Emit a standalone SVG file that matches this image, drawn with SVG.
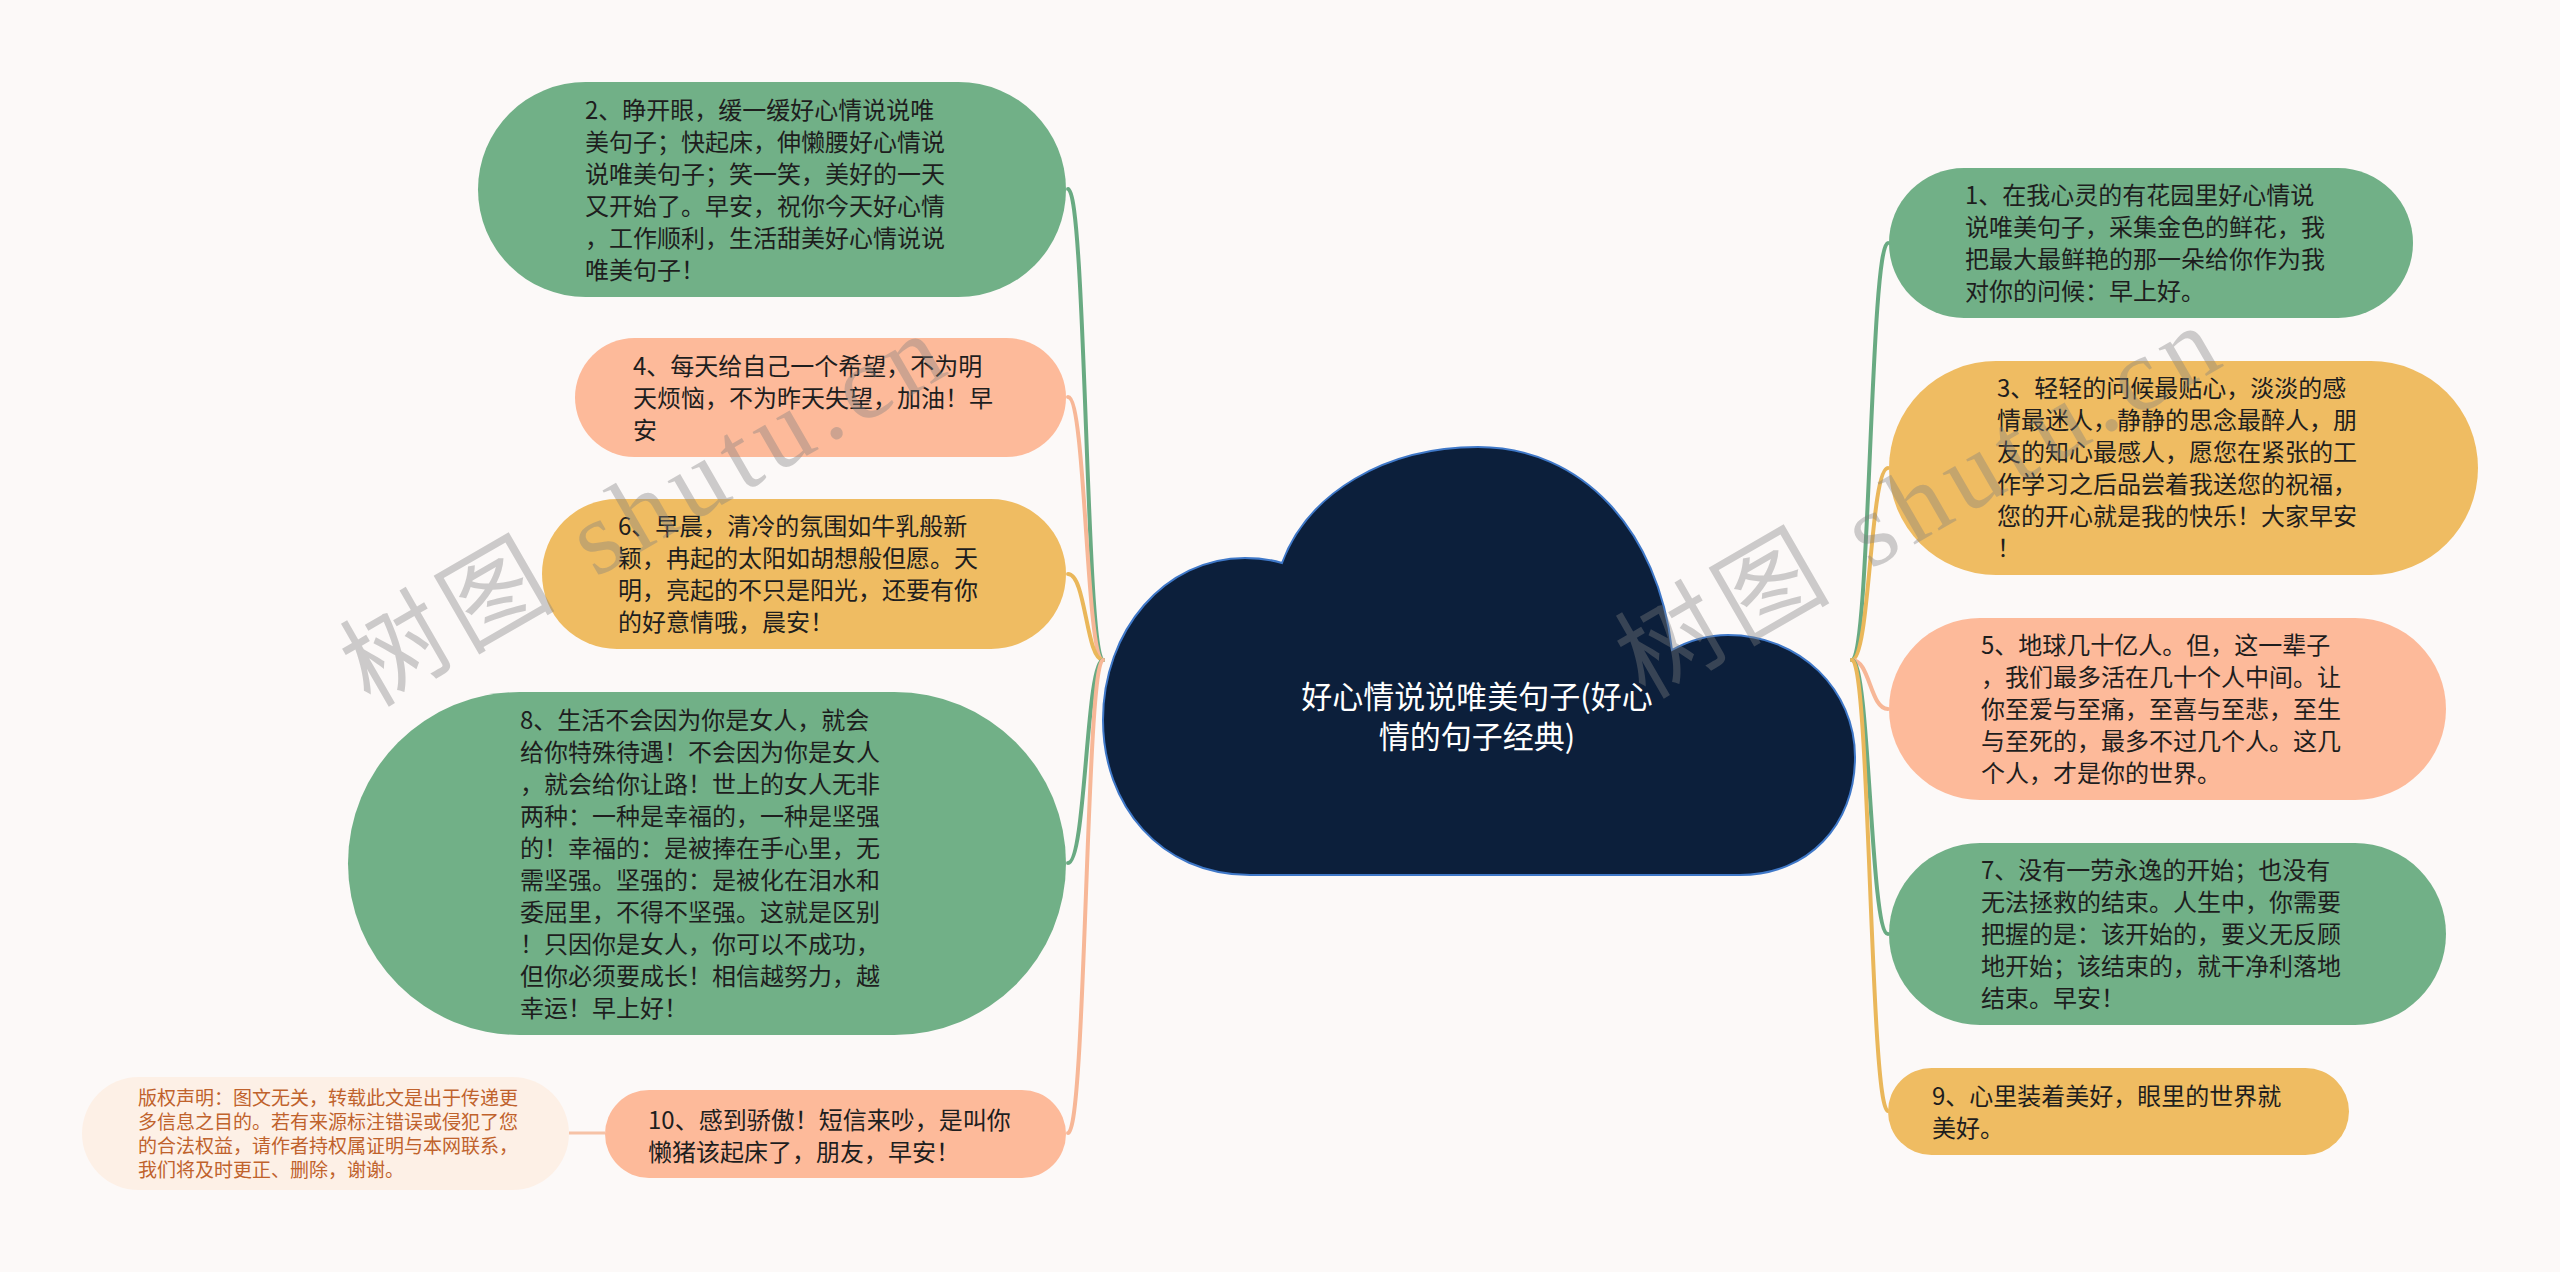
<svg xmlns="http://www.w3.org/2000/svg" width="2560" height="1272" viewBox="0 0 2560 1272">
<style>
.t{font-family:"Noto Sans CJK SC","Liberation Sans",sans-serif;font-size:24px;fill:#1e1e1e}
.cp{font-family:"Noto Sans CJK SC","Liberation Sans",sans-serif;font-size:19px;fill:#c0622c}
.ct{font-family:"Noto Sans CJK SC","Liberation Sans",sans-serif;font-size:31px;fill:#ffffff;text-anchor:middle}
.g{fill:#71b087}
.s{fill:#fdba9a}
.y{fill:#efbc62}
.lg{fill:none;stroke:#69aa82;stroke-width:4;stroke-linecap:round}
.ls{fill:none;stroke:#f7b797;stroke-width:4;stroke-linecap:round}
.ly{fill:none;stroke:#eab75a;stroke-width:4;stroke-linecap:round}
.wm{font-family:"Liberation Serif","Noto Sans CJK SC",serif;font-size:104px;fill:#808080;opacity:0.38}
</style>
<rect x="0" y="0" width="2560" height="1272" fill="#fcf9f8"/>

<g id="connectors">
<path class="lg" d="M1068 189 C1086 189,1086 660,1103 660"/>
<path class="ls" d="M1068 397 C1086 397,1086 660,1103 660"/>
<path class="ly" d="M1068 574 C1086 574,1086 660,1103 660"/>
<path class="lg" d="M1068 863 C1086 863,1086 660,1103 660"/>
<path class="ls" d="M1068 1133 C1086 1133,1086 660,1103 660"/>
<path class="lg" d="M1852 660 C1870 660,1870 243,1888 243"/>
<path class="ly" d="M1852 660 C1870 660,1870 468,1888 468"/>
<path class="ls" d="M1852 660 C1870 660,1870 709,1888 709"/>
<path class="lg" d="M1852 660 C1870 660,1870 934,1888 934"/>
<path class="ly" d="M1852 660 C1870 660,1870 1111,1888 1111"/>
<path d="M569 1133 L605 1133" fill="none" stroke="#f6c2a6" stroke-width="3"/>
</g>

<g id="center">
<path d="M1250 875 C1160 875,1103 805,1103 720 C1103 630,1165 558,1245 558 C1262 558,1272 560,1282 563 C1308 493,1385 447,1478 447 C1582 447,1658 530,1672 650 C1690 640,1708 635,1728 635 C1800 635,1855 690,1855 757 C1855 825,1808 875,1740 875 Z" fill="#0c1f3b" stroke="#3f78c8" stroke-width="2"/>
<text class="ct" x="1477" y="708">好心情说说唯美句子(好心</text>
<text class="ct" x="1477" y="748">情的句子经典)</text>
</g>

<g id="n2">
<rect class="g" x="478" y="82" width="588" height="215" rx="107.5"/>
<text class="t" x="585" y="119">2、睁开眼，缓一缓好心情说说唯</text>
<text class="t" x="585" y="151">美句子；快起床，伸懒腰好心情说</text>
<text class="t" x="585" y="183">说唯美句子；笑一笑，美好的一天</text>
<text class="t" x="585" y="215">又开始了。早安，祝你今天好心情</text>
<text class="t" x="585" y="247">，工作顺利，生活甜美好心情说说</text>
<text class="t" x="585" y="279">唯美句子！</text>
</g>

<g id="n4">
<rect class="s" x="575" y="338" width="491" height="119" rx="59.5"/>
<text class="t" x="633" y="375">4、每天给自己一个希望，不为明</text>
<text class="t" x="633" y="407">天烦恼，不为昨天失望，加油！早</text>
<text class="t" x="633" y="439">安</text>
</g>

<g id="n6">
<rect class="y" x="542" y="499" width="524" height="150" rx="75"/>
<text class="t" x="618" y="535">6、早晨，清冷的氛围如牛乳般新</text>
<text class="t" x="618" y="567">颖，冉起的太阳如胡想般但愿。天</text>
<text class="t" x="618" y="599">明，亮起的不只是阳光，还要有你</text>
<text class="t" x="618" y="631">的好意情哦，晨安！</text>
</g>

<g id="n8">
<rect class="g" x="348" y="692" width="718" height="343" rx="171.5"/>
<text class="t" x="520" y="729">8、生活不会因为你是女人，就会</text>
<text class="t" x="520" y="761">给你特殊待遇！不会因为你是女人</text>
<text class="t" x="520" y="793">，就会给你让路！世上的女人无非</text>
<text class="t" x="520" y="825">两种：一种是幸福的，一种是坚强</text>
<text class="t" x="520" y="857">的！幸福的：是被捧在手心里，无</text>
<text class="t" x="520" y="889">需坚强。坚强的：是被化在泪水和</text>
<text class="t" x="520" y="921">委屈里，不得不坚强。这就是区别</text>
<text class="t" x="520" y="953">！只因你是女人，你可以不成功，</text>
<text class="t" x="520" y="985">但你必须要成长！相信越努力，越</text>
<text class="t" x="520" y="1017">幸运！早上好！</text>
</g>

<g id="n10">
<rect class="s" x="605" y="1090" width="461" height="88" rx="44"/>
<text class="t" x="648" y="1129">10、感到骄傲！短信来吵，是叫你</text>
<text class="t" x="648" y="1161">懒猪该起床了，朋友，早安！</text>
</g>

<g id="copyright">
<rect x="82" y="1077" width="487" height="113" rx="56.5" fill="#fdf0e6"/>
<text class="cp" x="138" y="1105">版权声明：图文无关，转载此文是出于传递更</text>
<text class="cp" x="138" y="1129">多信息之目的。若有来源标注错误或侵犯了您</text>
<text class="cp" x="138" y="1153">的合法权益，请作者持权属证明与本网联系，</text>
<text class="cp" x="138" y="1177">我们将及时更正、删除，谢谢。</text>
</g>

<g id="n1">
<rect class="g" x="1889" y="168" width="524" height="150" rx="75"/>
<text class="t" x="1965" y="204">1、在我心灵的有花园里好心情说</text>
<text class="t" x="1965" y="236">说唯美句子，采集金色的鲜花，我</text>
<text class="t" x="1965" y="268">把最大最鲜艳的那一朵给你作为我</text>
<text class="t" x="1965" y="300">对你的问候：早上好。</text>
</g>

<g id="n3">
<rect class="y" x="1889" y="361" width="589" height="214" rx="107"/>
<text class="t" x="1997" y="397">3、轻轻的问候最贴心，淡淡的感</text>
<text class="t" x="1997" y="429">情最迷人，静静的思念最醉人，朋</text>
<text class="t" x="1997" y="461">友的知心最感人，愿您在紧张的工</text>
<text class="t" x="1997" y="493">作学习之后品尝着我送您的祝福，</text>
<text class="t" x="1997" y="525">您的开心就是我的快乐！大家早安</text>
<text class="t" x="1997" y="557">！</text>
</g>

<g id="n5">
<rect class="s" x="1889" y="618" width="557" height="182" rx="91"/>
<text class="t" x="1981" y="654">5、地球几十亿人。但，这一辈子</text>
<text class="t" x="1981" y="686">，我们最多活在几十个人中间。让</text>
<text class="t" x="1981" y="718">你至爱与至痛，至喜与至悲，至生</text>
<text class="t" x="1981" y="750">与至死的，最多不过几个人。这几</text>
<text class="t" x="1981" y="782">个人，才是你的世界。</text>
</g>

<g id="n7">
<rect class="g" x="1889" y="843" width="557" height="182" rx="91"/>
<text class="t" x="1981" y="879">7、没有一劳永逸的开始；也没有</text>
<text class="t" x="1981" y="911">无法拯救的结束。人生中，你需要</text>
<text class="t" x="1981" y="943">把握的是：该开始的，要义无反顾</text>
<text class="t" x="1981" y="975">地开始；该结束的，就干净利落地</text>
<text class="t" x="1981" y="1007">结束。早安！</text>
</g>

<g id="n9">
<rect class="y" x="1888" y="1068" width="461" height="87" rx="43.5"/>
<text class="t" x="1932" y="1105">9、心里装着美好，眼里的世界就</text>
<text class="t" x="1932" y="1137">美好。</text>
</g>

<g id="watermarks">
<text class="wm" x="370" y="708" transform="rotate(-30 370 708)" textLength="670" lengthAdjust="spacing">树图 shutu.cn</text>
<text class="wm" x="1645" y="700" transform="rotate(-30 1645 700)" textLength="670" lengthAdjust="spacing">树图 shutu.cn</text>
</g>
</svg>
